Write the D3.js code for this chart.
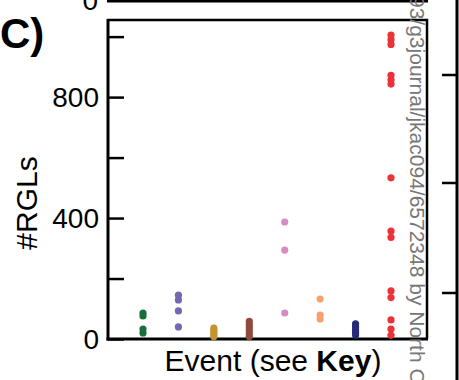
<!DOCTYPE html>
<html lang="en">
<meta charset="utf-8">
<head>
    <script src="https://d3js.org/d3.v7.min.js"></script>
</head>
<body style="margin:0">
<div id="chart"></div>

<style>
	body { background: #fff; }
	svg text {
	font-family: "Liberation Sans", Arial, sans-serif;
	fill: #000;
	}
</style>

<script>
// events along the x axis, one colour each
var events = ["e1", "e2", "e3", "e4", "e5", "e6", "e7", "e8"];
var colors = ["#17703c", "#7267b0", "#c29430", "#8e4b3b", "#d88bc3", "#f7a26a", "#27297a", "#ec3237"];

// #RGLs per event
var rgl1 = [86, 76, 33, 20];
var rgl2 = [145, 129, 93, 40];
var rgl3 = [36, 29, 22, 15, 8];
var rgl4 = [58, 48, 38, 28, 18, 8];
var rgl5 = [387, 294, 86];
var rgl6 = [132, 79, 66];
var rgl7 = [50, 40, 31, 22, 13];
var rgl8 = [1005, 990, 974, 872, 857, 843, 533, 357, 336, 159, 137, 63, 33, 12];
var rgls = [rgl1, rgl2, rgl3, rgl4, rgl5, rgl6, rgl7, rgl8];

var yTicks = [0, 200, 400, 600, 800, 1000];
var yLabels = [0, 400, 800];

var width = 459, height = 380;
var svg = d3.select("#chart").append("svg")
	.attr("width", width)
	.attr("height", height);

var x = d3.scalePoint().domain(events).range([143, 391]);
var y = d3.scaleLinear().domain([0, 1055]).range([339, 20]);

// bits of the neighbouring panels
svg.append("line").attr("x1", 107).attr("x2", 428).attr("y1", 1).attr("y2", 1)
	.attr("stroke", "#000").attr("stroke-width", 3);
svg.append("text").attr("x", 98).attr("y", 10).attr("text-anchor", "end")
	.style("font-size", "28px").text("0");
svg.append("line").attr("x1", 457).attr("x2", 457).attr("y1", 0).attr("y2", 380)
	.attr("stroke", "#000").attr("stroke-width", 3);
[75, 183, 293].forEach(function(t) {
	svg.append("line").attr("x1", 442).attr("x2", 457).attr("y1", t).attr("y2", t)
		.attr("stroke", "#000").attr("stroke-width", 2.5);
});

// frame
svg.append("path")
	.attr("d", "M107," + y(1055) + "H427V" + y(0))
	.attr("fill", "none").attr("stroke", "#000").attr("stroke-width", 2.5);

// y axis, ticks pointing inward
var yAxis = svg.append("g")
	.attr("transform", "translate(108,0)")
	.call(d3.axisRight(y).tickValues(yTicks).tickSize(16).tickFormat(""));
yAxis.select(".domain").remove();
yAxis.selectAll("line").attr("stroke", "#000").attr("stroke-width", 2.5);
svg.append("line").attr("x1", 108).attr("x2", 108).attr("y1", 19).attr("y2", 340.5)
	.attr("stroke", "#000").attr("stroke-width", 3);
svg.append("line").attr("x1", 106.5).attr("x2", 428).attr("y1", 339).attr("y2", 339)
	.attr("stroke", "#000").attr("stroke-width", 3);

svg.selectAll(".ylab")
	.data(yLabels)
	.enter()
	.append("text")
	.attr("x", 99)
	.attr("y", function(d) { return y(d); })
	.attr("dy", "0.36em")
	.attr("text-anchor", "end")
	.style("font-size", "28px")
	.text(function(d) { return d; });

// dots
events.forEach(function(e, i) {
	svg.selectAll(".dot" + i)
		.data(rgls[i])
		.enter()
		.append("circle")
		.attr("cx", x(e))
		.attr("cy", function(d) { return y(d); })
		.attr("r", 3.6)
		.attr("fill", colors[i]);
});

// labels
svg.append("text")
	.attr("transform", "translate(37,203) rotate(-90)")
	.attr("text-anchor", "middle")
	.style("font-size", "30px")
	.text("#RGLs");

var xl = svg.append("text")
	.attr("x", 273).attr("y", 371)
	.attr("text-anchor", "middle")
	.style("font-size", "30px");
xl.append("tspan").text("Event (see ");
xl.append("tspan").style("font-weight", "bold").text("Key");
xl.append("tspan").text(")");

svg.append("text")
	.attr("x", 0).attr("y", 48)
	.style("font-size", "42px").style("font-weight", "bold")
	.text("C)");

// download stamp over the figure
svg.append("text")
	.attr("transform", "translate(410,-4) rotate(90)")
	.style("font-size", "21px")
	.style("fill", "#777")
	.text("93/g3journal/jkac094/6572348 by North C");
</script>
</html>
